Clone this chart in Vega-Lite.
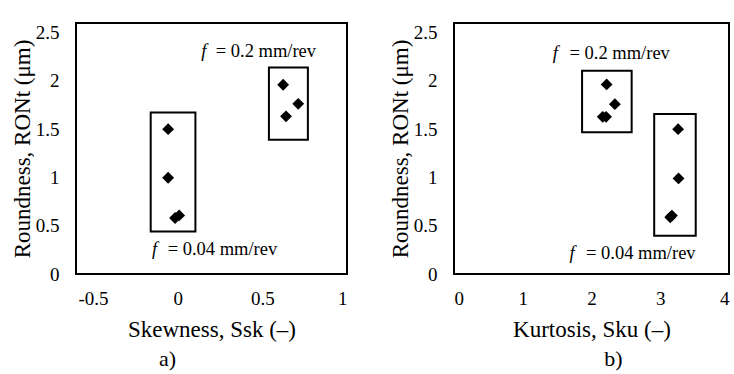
{
  "$schema": "https://vega.github.io/schema/vega-lite/v6.json",
  "background": "white",
  "padding": {"left": 10, "top": 22, "right": 0, "bottom": 0},
  "spacing": 40,
  "config": {
    "font": "Liberation Serif",
    "view": {"stroke": "black", "strokeWidth": 2},
    "axis": {
      "grid": false, "ticks": false, "domain": false,
      "labelFont": "Liberation Serif", "labelFontSize": 19, "labelColor": "black",
      "titleFont": "Liberation Serif", "titleFontSize": 23, "titleFontWeight": "normal", "titleColor": "black",
      "labelPadding": 15, "titlePadding": 10,
      "labelExpr": "'' + datum.value"
    },
    "axisY": {"labelPadding": 17, "titlePadding": 1},
    "title": {"font": "Liberation Serif", "fontSize": 22, "fontWeight": "normal", "color": "black"},
    "text": {"font": "Liberation Serif", "fontSize": 18.5, "color": "black", "align": "left", "baseline": "middle"}
  },
  "datasets": {
    "pa": [
      {"x": -0.056, "y": 1.50},
      {"x": -0.056, "y": 0.997},
      {"x": -0.015, "y": 0.58},
      {"x": 0.009, "y": 0.607},
      {"x": 0.623, "y": 1.96},
      {"x": 0.712, "y": 1.763},
      {"x": 0.640, "y": 1.633}
    ],
    "ba": [
      {"x1": -0.159, "x2": 0.105, "y1": 0.44, "y2": 1.673},
      {"x1": 0.539, "x2": 0.769, "y1": 1.39, "y2": 2.14}
    ],
    "ta": [
      {"x": 0.140, "y": 2.307, "t": "f", "it": "italic"},
      {"x": 0.225, "y": 2.307, "t": "= 0.2 mm/rev", "it": "normal"},
      {"x": -0.151, "y": 0.257, "t": "f", "it": "italic"},
      {"x": -0.059, "y": 0.257, "t": "= 0.04 mm/rev", "it": "normal"}
    ],
    "pb": [
      {"x": 2.22, "y": 1.964},
      {"x": 2.34, "y": 1.759},
      {"x": 2.163, "y": 1.628},
      {"x": 2.212, "y": 1.628},
      {"x": 3.26, "y": 1.50},
      {"x": 3.266, "y": 0.99},
      {"x": 3.145, "y": 0.588},
      {"x": 3.17, "y": 0.605}
    ],
    "bb": [
      {"x1": 1.863, "x2": 2.584, "y1": 1.469, "y2": 2.106},
      {"x1": 2.912, "x2": 3.516, "y1": 0.396, "y2": 1.657}
    ],
    "tb": [
      {"x": 1.437, "y": 2.294, "t": "f", "it": "italic"},
      {"x": 1.68, "y": 2.294, "t": "= 0.2 mm/rev", "it": "normal"},
      {"x": 1.68, "y": 0.22, "t": "f", "it": "italic"},
      {"x": 1.92, "y": 0.22, "t": "= 0.04 mm/rev", "it": "normal"}
    ]
  },
  "hconcat": [
    {
      "width": 271, "height": 251,
      "title": {"text": "a)", "orient": "bottom", "offset": 8, "dx": -44},
      "layer": [
        {
          "data": {"name": "ba"},
          "mark": {"type": "rect", "fill": null, "fillOpacity": 0, "stroke": "black", "strokeWidth": 2},
          "encoding": {
            "x": {"field": "x1", "type": "quantitative", "scale": {"domain": [-0.5, 1]},
                  "axis": {"values": [-0.5, 0, 0.5, 1], "title": "Skewness, Ssk (–)"}},
            "x2": {"field": "x2"},
            "y": {"field": "y1", "type": "quantitative", "scale": {"domain": [0, 2.5]},
                  "axis": {"values": [0, 0.5, 1, 1.5, 2, 2.5], "title": "Roundness, RONt (μm)"}},
            "y2": {"field": "y2"}
          }
        },
        {
          "data": {"name": "pa"},
          "mark": {"type": "point", "shape": "diamond", "filled": true, "color": "black", "opacity": 1, "size": 140},
          "encoding": {
            "x": {"field": "x", "type": "quantitative"},
            "y": {"field": "y", "type": "quantitative"}
          }
        },
        {
          "data": {"name": "ta"},
          "transform": [{"filter": "datum.it === 'italic'"}],
          "mark": {"type": "text", "fontStyle": "italic"},
          "encoding": {
            "x": {"field": "x", "type": "quantitative"},
            "y": {"field": "y", "type": "quantitative"},
            "text": {"field": "t"}
          }
        },
        {
          "data": {"name": "ta"},
          "transform": [{"filter": "datum.it === 'normal'"}],
          "mark": {"type": "text"},
          "encoding": {
            "x": {"field": "x", "type": "quantitative"},
            "y": {"field": "y", "type": "quantitative"},
            "text": {"field": "t"}
          }
        }
      ]
    },
    {
      "width": 275, "height": 251,
      "title": {"text": "b)", "orient": "bottom", "offset": 8, "dx": 22},
      "layer": [
        {
          "data": {"name": "bb"},
          "mark": {"type": "rect", "fill": null, "fillOpacity": 0, "stroke": "black", "strokeWidth": 2},
          "encoding": {
            "x": {"field": "x1", "type": "quantitative", "scale": {"domain": [0, 4]},
                  "axis": {"values": [0, 1, 2, 3, 4], "title": "Kurtosis, Sku (–)"}},
            "x2": {"field": "x2"},
            "y": {"field": "y1", "type": "quantitative", "scale": {"domain": [0, 2.5]},
                  "axis": {"values": [0, 0.5, 1, 1.5, 2, 2.5], "title": "Roundness, RONt (μm)"}},
            "y2": {"field": "y2"}
          }
        },
        {
          "data": {"name": "pb"},
          "mark": {"type": "point", "shape": "diamond", "filled": true, "color": "black", "opacity": 1, "size": 140},
          "encoding": {
            "x": {"field": "x", "type": "quantitative"},
            "y": {"field": "y", "type": "quantitative"}
          }
        },
        {
          "data": {"name": "tb"},
          "transform": [{"filter": "datum.it === 'italic'"}],
          "mark": {"type": "text", "fontStyle": "italic"},
          "encoding": {
            "x": {"field": "x", "type": "quantitative"},
            "y": {"field": "y", "type": "quantitative"},
            "text": {"field": "t"}
          }
        },
        {
          "data": {"name": "tb"},
          "transform": [{"filter": "datum.it === 'normal'"}],
          "mark": {"type": "text"},
          "encoding": {
            "x": {"field": "x", "type": "quantitative"},
            "y": {"field": "y", "type": "quantitative"},
            "text": {"field": "t"}
          }
        }
      ]
    }
  ]
}
